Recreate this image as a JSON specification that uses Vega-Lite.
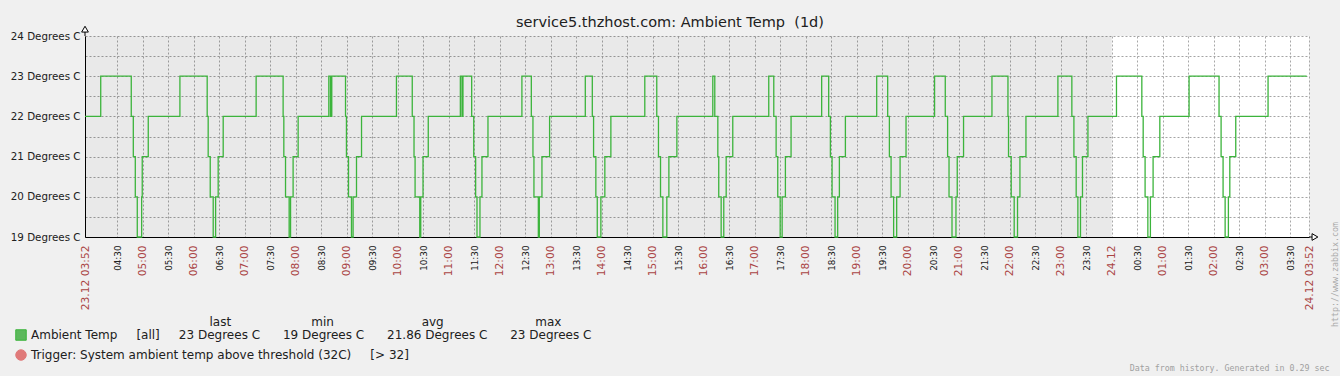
{
  "$schema": "https://vega.github.io/schema/vega-lite/v6.json",
  "autosize": {"type": "none"},
  "width": 1224,
  "height": 201,
  "padding": {"left": 85, "top": 36, "right": 31, "bottom": 139},
  "background": "#f0f0f0",
  "config": {"view": {"stroke": null, "fill": "#ffffff"}, "font": "DejaVu Sans"},
  "title": {
    "text": "service5.thzhost.com: Ambient Temp\u00a0 (1d)",
    "font": "DejaVu Sans", "fontSize": 14.5, "fontWeight": "normal", "color": "#202020",
    "anchor": "middle", "dx": -27, "dy": 21, "baseline": "alphabetic", "offset": 4
  },
  "layer": [
    {
      "data": {"values": [{}]},
      "mark": {"type": "rect", "fill": "#000000", "fillOpacity": 0.088},
      "encoding": {
        "x": {"datum": {"year": 2013, "month": 12, "date": 23, "hours": 3, "minutes": 52}, "type": "temporal"},
        "x2": {"datum": {"year": 2013, "month": 12, "date": 24, "hours": 0, "minutes": 0}}
      }
    },
    {
      "data": {"values": [
        {"t": "2013-12-23T03:52:00", "v": 22}, {"t": "2013-12-23T04:10:30", "v": 23},
        {"t": "2013-12-23T04:46:25", "v": 22}, {"t": "2013-12-23T04:48:50", "v": 21}, {"t": "2013-12-23T04:51:10", "v": 20}, {"t": "2013-12-23T04:53:30", "v": 19},
        {"t": "2013-12-23T04:58:40", "v": 20}, {"t": "2013-12-23T04:59:20", "v": 21}, {"t": "2013-12-23T05:06:25", "v": 22}, {"t": "2013-12-23T05:43:40", "v": 23},
        {"t": "2013-12-23T06:15:45", "v": 22}, {"t": "2013-12-23T06:16:55", "v": 21}, {"t": "2013-12-23T06:19:20", "v": 20}, {"t": "2013-12-23T06:22:50", "v": 19},
        {"t": "2013-12-23T06:25:40", "v": 20}, {"t": "2013-12-23T06:28:40", "v": 21}, {"t": "2013-12-23T06:34:35", "v": 22}, {"t": "2013-12-23T07:13:20", "v": 23},
        {"t": "2013-12-23T07:45:05", "v": 22}, {"t": "2013-12-23T07:45:55", "v": 21}, {"t": "2013-12-23T07:47:55", "v": 20}, {"t": "2013-12-23T07:52:10", "v": 19},
        {"t": "2013-12-23T07:53:50", "v": 20}, {"t": "2013-12-23T07:56:50", "v": 21}, {"t": "2013-12-23T08:02:45", "v": 22}, {"t": "2013-12-23T08:38:50", "v": 23},
        {"t": "2013-12-23T08:40:50", "v": 22}, {"t": "2013-12-23T08:42:20", "v": 23},
        {"t": "2013-12-23T08:58:30", "v": 22}, {"t": "2013-12-23T08:59:35", "v": 21}, {"t": "2013-12-23T09:02:00", "v": 20}, {"t": "2013-12-23T09:05:30", "v": 19},
        {"t": "2013-12-23T09:07:25", "v": 20}, {"t": "2013-12-23T09:11:25", "v": 21}, {"t": "2013-12-23T09:17:20", "v": 22}, {"t": "2013-12-23T09:58:25", "v": 23},
        {"t": "2013-12-23T10:17:00", "v": 22}, {"t": "2013-12-23T10:19:05", "v": 21}, {"t": "2013-12-23T10:20:20", "v": 20}, {"t": "2013-12-23T10:25:50", "v": 19},
        {"t": "2013-12-23T10:27:00", "v": 20}, {"t": "2013-12-23T10:29:40", "v": 21}, {"t": "2013-12-23T10:35:50", "v": 22}, {"t": "2013-12-23T11:13:35", "v": 23},
        {"t": "2013-12-23T11:15:30", "v": 22}, {"t": "2013-12-23T11:16:40", "v": 23},
        {"t": "2013-12-23T11:26:55", "v": 22}, {"t": "2013-12-23T11:29:20", "v": 21}, {"t": "2013-12-23T11:31:35", "v": 20}, {"t": "2013-12-23T11:33:10", "v": 19},
        {"t": "2013-12-23T11:36:40", "v": 20}, {"t": "2013-12-23T11:39:00", "v": 21}, {"t": "2013-12-23T11:46:05", "v": 22}, {"t": "2013-12-23T12:26:00", "v": 23},
        {"t": "2013-12-23T12:37:05", "v": 22}, {"t": "2013-12-23T12:39:00", "v": 21}, {"t": "2013-12-23T12:40:10", "v": 20}, {"t": "2013-12-23T12:45:20", "v": 19},
        {"t": "2013-12-23T12:46:30", "v": 20}, {"t": "2013-12-23T12:49:35", "v": 21}, {"t": "2013-12-23T12:58:35", "v": 22}, {"t": "2013-12-23T13:40:35", "v": 23},
        {"t": "2013-12-23T13:48:50", "v": 22}, {"t": "2013-12-23T13:50:20", "v": 21}, {"t": "2013-12-23T13:53:00", "v": 20}, {"t": "2013-12-23T13:54:40", "v": 19},
        {"t": "2013-12-23T13:58:55", "v": 20}, {"t": "2013-12-23T14:03:35", "v": 21}, {"t": "2013-12-23T14:10:40", "v": 22}, {"t": "2013-12-23T14:50:35", "v": 23},
        {"t": "2013-12-23T15:04:40", "v": 22}, {"t": "2013-12-23T15:06:40", "v": 21}, {"t": "2013-12-23T15:09:05", "v": 20}, {"t": "2013-12-23T15:11:50", "v": 19},
        {"t": "2013-12-23T15:16:30", "v": 20}, {"t": "2013-12-23T15:18:55", "v": 21}, {"t": "2013-12-23T15:28:20", "v": 22}, {"t": "2013-12-23T16:10:35", "v": 23},
        {"t": "2013-12-23T16:12:55", "v": 22}, {"t": "2013-12-23T16:16:30", "v": 21}, {"t": "2013-12-23T16:17:35", "v": 20}, {"t": "2013-12-23T16:20:25", "v": 19},
        {"t": "2013-12-23T16:23:30", "v": 20}, {"t": "2013-12-23T16:26:20", "v": 21}, {"t": "2013-12-23T16:34:05", "v": 22}, {"t": "2013-12-23T17:16:25", "v": 23},
        {"t": "2013-12-23T17:22:20", "v": 22}, {"t": "2013-12-23T17:25:05", "v": 21}, {"t": "2013-12-23T17:27:00", "v": 20}, {"t": "2013-12-23T17:29:50", "v": 19},
        {"t": "2013-12-23T17:32:10", "v": 20}, {"t": "2013-12-23T17:36:00", "v": 21}, {"t": "2013-12-23T17:42:40", "v": 22}, {"t": "2013-12-23T18:18:40", "v": 23},
        {"t": "2013-12-23T18:26:55", "v": 22}, {"t": "2013-12-23T18:28:55", "v": 21}, {"t": "2013-12-23T18:30:55", "v": 20}, {"t": "2013-12-23T18:34:25", "v": 19},
        {"t": "2013-12-23T18:37:30", "v": 20}, {"t": "2013-12-23T18:39:30", "v": 21}, {"t": "2013-12-23T18:46:35", "v": 22}, {"t": "2013-12-23T19:23:25", "v": 23},
        {"t": "2013-12-23T19:36:20", "v": 22}, {"t": "2013-12-23T19:38:20", "v": 21}, {"t": "2013-12-23T19:40:20", "v": 20}, {"t": "2013-12-23T19:43:20", "v": 19},
        {"t": "2013-12-23T19:46:55", "v": 20}, {"t": "2013-12-23T19:50:55", "v": 21}, {"t": "2013-12-23T19:57:55", "v": 22}, {"t": "2013-12-23T20:31:30", "v": 23},
        {"t": "2013-12-23T20:44:05", "v": 22}, {"t": "2013-12-23T20:46:50", "v": 21}, {"t": "2013-12-23T20:48:30", "v": 20}, {"t": "2013-12-23T20:52:00", "v": 19},
        {"t": "2013-12-23T20:56:40", "v": 20}, {"t": "2013-12-23T20:58:10", "v": 21}, {"t": "2013-12-23T21:05:35", "v": 22}, {"t": "2013-12-23T21:39:00", "v": 23},
        {"t": "2013-12-23T21:57:50", "v": 22}, {"t": "2013-12-23T21:58:30", "v": 21}, {"t": "2013-12-23T22:01:40", "v": 20}, {"t": "2013-12-23T22:05:10", "v": 19},
        {"t": "2013-12-23T22:09:05", "v": 20}, {"t": "2013-12-23T22:11:55", "v": 21}, {"t": "2013-12-23T22:19:00", "v": 22}, {"t": "2013-12-23T22:56:35", "v": 23},
        {"t": "2013-12-23T23:13:00", "v": 22}, {"t": "2013-12-23T23:15:25", "v": 21}, {"t": "2013-12-23T23:18:05", "v": 20}, {"t": "2013-12-23T23:20:05", "v": 19},
        {"t": "2013-12-23T23:23:10", "v": 20}, {"t": "2013-12-23T23:25:30", "v": 21}, {"t": "2013-12-23T23:31:55", "v": 22}, {"t": "2013-12-24T00:05:30", "v": 23},
        {"t": "2013-12-24T00:35:20", "v": 22}, {"t": "2013-12-24T00:36:55", "v": 21}, {"t": "2013-12-24T00:39:10", "v": 20}, {"t": "2013-12-24T00:42:25", "v": 19},
        {"t": "2013-12-24T00:45:25", "v": 20}, {"t": "2013-12-24T00:48:35", "v": 21}, {"t": "2013-12-24T00:56:30", "v": 22}, {"t": "2013-12-24T01:30:55", "v": 23},
        {"t": "2013-12-24T02:06:10", "v": 22}, {"t": "2013-12-24T02:08:35", "v": 21}, {"t": "2013-12-24T02:10:55", "v": 20}, {"t": "2013-12-24T02:13:20", "v": 19},
        {"t": "2013-12-24T02:17:10", "v": 20}, {"t": "2013-12-24T02:18:50", "v": 21}, {"t": "2013-12-24T02:25:50", "v": 22}, {"t": "2013-12-24T03:03:50", "v": 23},
        {"t": "2013-12-24T03:49:20", "v": 23}
      ]},
      "mark": {"type": "line", "interpolate": "step-after", "strokeWidth": 1.3},
      "encoding": {
        "x": {
          "field": "t", "type": "temporal",
          "scale": {"domain": [{"year": 2013, "month": 12, "date": 23, "hours": 3, "minutes": 52}, {"year": 2013, "month": 12, "date": 24, "hours": 3, "minutes": 52}]},
          "axis": {
            "tickCount": 200,
            "values": [
              {"year": 2013, "month": 12, "date": 23, "hours": 3, "minutes": 52},
              {"year": 2013, "month": 12, "date": 23, "hours": 4, "minutes": 30},
              {"year": 2013, "month": 12, "date": 23, "hours": 5, "minutes": 0}, {"year": 2013, "month": 12, "date": 23, "hours": 5, "minutes": 30},
              {"year": 2013, "month": 12, "date": 23, "hours": 6, "minutes": 0}, {"year": 2013, "month": 12, "date": 23, "hours": 6, "minutes": 30},
              {"year": 2013, "month": 12, "date": 23, "hours": 7, "minutes": 0}, {"year": 2013, "month": 12, "date": 23, "hours": 7, "minutes": 30},
              {"year": 2013, "month": 12, "date": 23, "hours": 8, "minutes": 0}, {"year": 2013, "month": 12, "date": 23, "hours": 8, "minutes": 30},
              {"year": 2013, "month": 12, "date": 23, "hours": 9, "minutes": 0}, {"year": 2013, "month": 12, "date": 23, "hours": 9, "minutes": 30},
              {"year": 2013, "month": 12, "date": 23, "hours": 10, "minutes": 0}, {"year": 2013, "month": 12, "date": 23, "hours": 10, "minutes": 30},
              {"year": 2013, "month": 12, "date": 23, "hours": 11, "minutes": 0}, {"year": 2013, "month": 12, "date": 23, "hours": 11, "minutes": 30},
              {"year": 2013, "month": 12, "date": 23, "hours": 12, "minutes": 0}, {"year": 2013, "month": 12, "date": 23, "hours": 12, "minutes": 30},
              {"year": 2013, "month": 12, "date": 23, "hours": 13, "minutes": 0}, {"year": 2013, "month": 12, "date": 23, "hours": 13, "minutes": 30},
              {"year": 2013, "month": 12, "date": 23, "hours": 14, "minutes": 0}, {"year": 2013, "month": 12, "date": 23, "hours": 14, "minutes": 30},
              {"year": 2013, "month": 12, "date": 23, "hours": 15, "minutes": 0}, {"year": 2013, "month": 12, "date": 23, "hours": 15, "minutes": 30},
              {"year": 2013, "month": 12, "date": 23, "hours": 16, "minutes": 0}, {"year": 2013, "month": 12, "date": 23, "hours": 16, "minutes": 30},
              {"year": 2013, "month": 12, "date": 23, "hours": 17, "minutes": 0}, {"year": 2013, "month": 12, "date": 23, "hours": 17, "minutes": 30},
              {"year": 2013, "month": 12, "date": 23, "hours": 18, "minutes": 0}, {"year": 2013, "month": 12, "date": 23, "hours": 18, "minutes": 30},
              {"year": 2013, "month": 12, "date": 23, "hours": 19, "minutes": 0}, {"year": 2013, "month": 12, "date": 23, "hours": 19, "minutes": 30},
              {"year": 2013, "month": 12, "date": 23, "hours": 20, "minutes": 0}, {"year": 2013, "month": 12, "date": 23, "hours": 20, "minutes": 30},
              {"year": 2013, "month": 12, "date": 23, "hours": 21, "minutes": 0}, {"year": 2013, "month": 12, "date": 23, "hours": 21, "minutes": 30},
              {"year": 2013, "month": 12, "date": 23, "hours": 22, "minutes": 0}, {"year": 2013, "month": 12, "date": 23, "hours": 22, "minutes": 30},
              {"year": 2013, "month": 12, "date": 23, "hours": 23, "minutes": 0}, {"year": 2013, "month": 12, "date": 23, "hours": 23, "minutes": 30},
              {"year": 2013, "month": 12, "date": 24, "hours": 0, "minutes": 0}, {"year": 2013, "month": 12, "date": 24, "hours": 0, "minutes": 30},
              {"year": 2013, "month": 12, "date": 24, "hours": 1, "minutes": 0}, {"year": 2013, "month": 12, "date": 24, "hours": 1, "minutes": 30},
              {"year": 2013, "month": 12, "date": 24, "hours": 2, "minutes": 0}, {"year": 2013, "month": 12, "date": 24, "hours": 2, "minutes": 30},
              {"year": 2013, "month": 12, "date": 24, "hours": 3, "minutes": 0}, {"year": 2013, "month": 12, "date": 24, "hours": 3, "minutes": 30},
              {"year": 2013, "month": 12, "date": 24, "hours": 3, "minutes": 52}
            ],
            "labelExpr": "hours(datum.value) == 3 && minutes(datum.value) == 52 ? (date(datum.value) == 23 ? '23.12 03:52' : '24.12 03:52') : (hours(datum.value) == 0 && minutes(datum.value) == 0 ? '24.12' : timeFormat(datum.value, '%H:%M'))",
            "labelAngle": 270,
            "labelFont": "DejaVu Sans",
            "labelColor": {"condition": {"test": "minutes(datum.value) == 30", "value": "#202020"}, "value": "#aa4444"},
            "labelFontSize": {"condition": {"test": "minutes(datum.value) == 30", "value": 8.8}, "value": 10.7},
            "labelPadding": 8,
            "labelOverlap": false, "labelFlush": false, "labelBound": false,
            "ticks": false, "tickSize": 0,
            "domainColor": "#000000", "domainWidth": 1,
            "grid": true,
            "gridColor": "#a8a8a8",
            "gridDash": [2, 2],
            "gridWidth": 1,
            "encode": {
              "grid": {
                "update": {
                  "stroke": {"signal": "minutes(datum.value) == 0 ? '#a4a4a4' : '#c8c8c8'"},
                  "strokeDash": {"value": [2, 2]},
                  "strokeOpacity": {"value": 1}
                }
              }
            },
            "title": "Data from history. Generated in 0.29 sec",
            "titleFont": "DejaVu Sans Mono", "titleFontSize": 8.3, "titleFontWeight": "normal", "titleColor": "#a0a0a0",
            "titleX": 1244, "titleY": 131, "titleAlign": "right", "titleBaseline": "middle", "titleAngle": 0
          }
        },
        "y": {
          "field": "v", "type": "quantitative",
          "scale": {"domain": [19, 24], "nice": false, "zero": false},
          "axis": {
            "tickCount": 200,
            "values": [19, 19.5, 20, 20.5, 21, 21.5, 22, 22.5, 23, 23.5, 24],
            "labelExpr": "datum.value % 1 == 0 ? datum.value + ' Degrees C' : ''",
            "labelFont": "DejaVu Sans", "labelFontSize": 10.3, "labelColor": "#202020", "labelPadding": 5,
            "labelOverlap": false, "labelFlush": false,
            "ticks": false, "tickSize": 0,
            "domainColor": "#000000", "domainWidth": 1,
            "gridColor": "#a4a4a4", "gridDash": [2, 2],
            "title": "http://www.zabbix.com",
            "titleFont": "DejaVu Sans Mono", "titleFontSize": 8.3, "titleFontWeight": "normal", "titleColor": "#aaaaaa",
            "titleX": 1250, "titleY": 238, "titleAngle": 270, "titleAlign": "center", "titleBaseline": "middle"
          }
        },
        "color": {
          "datum": "Ambient Temp",
          "scale": {"domain": ["Ambient Temp", "Trigger"], "range": ["#3cb43c", "#e07a7a"]},
          "legend": {
            "orient": "none", "legendX": -70, "legendY": 281, "direction": "vertical",
            "title": "\u200b\u00a0\u00a0\u00a0\u00a0\u00a0\u00a0\u00a0\u00a0\u00a0\u00a0\u00a0\u00a0\u00a0\u00a0\u00a0\u00a0\u00a0\u00a0\u00a0\u00a0\u00a0\u00a0\u00a0\u00a0\u00a0\u00a0\u00a0\u00a0\u00a0\u00a0\u00a0\u00a0\u00a0\u00a0\u00a0\u00a0\u00a0\u00a0\u00a0\u00a0\u00a0\u00a0\u00a0\u00a0\u00a0\u00a0\u00a0\u00a0\u00a0\u00a0\u00a0last\u00a0\u00a0\u00a0\u00a0\u00a0\u00a0\u00a0\u00a0\u00a0\u00a0\u00a0\u00a0\u00a0\u00a0\u00a0\u00a0\u00a0\u00a0\u00a0\u00a0\u00a0min\u00a0\u00a0\u00a0\u00a0\u00a0\u00a0\u00a0\u00a0\u00a0\u00a0\u00a0\u00a0\u00a0\u00a0\u00a0\u00a0\u00a0\u00a0\u00a0\u00a0\u00a0\u00a0\u00a0avg\u00a0\u00a0\u00a0\u00a0\u00a0\u00a0\u00a0\u00a0\u00a0\u00a0\u00a0\u00a0\u00a0\u00a0\u00a0\u00a0\u00a0\u00a0\u00a0\u00a0\u00a0\u00a0\u00a0\u00a0max",
            "titleFont": "DejaVu Sans", "titleFontSize": 12, "titleFontWeight": "normal", "titleColor": "#202020", "titleLimit": 2000, "titlePadding": 0,
            "labelExpr": "datum.label == 'Trigger' ? 'Trigger: System ambient temp above threshold (32C)\u00a0\u00a0\u00a0\u00a0\u00a0[> 32]' : 'Ambient Temp\u00a0\u00a0\u00a0\u00a0\u00a0[all]\u00a0\u00a0\u00a0\u00a0\u00a023 Degrees C\u00a0\u00a0\u00a0\u00a0\u00a0\u00a019 Degrees C\u00a0\u00a0\u00a0\u00a0\u00a0\u00a021.86 Degrees C\u00a0\u00a0\u00a0\u00a0\u00a0\u00a023 Degrees C'",
            "labelFont": "DejaVu Sans", "labelFontSize": 12, "labelColor": "#202020", "labelLimit": 2000, "labelOffset": 4,
            "symbolType": "square", "symbolSize": 110, "symbolStrokeWidth": 1, "symbolStrokeColor": "#202020",
            "rowPadding": 4, "padding": 0,
            "encode": {
              "symbols": {
                "update": {
                  "shape": {"signal": "datum.value == 'Trigger' ? 'circle' : 'square'"},
                  "fill": {"signal": "datum.value == 'Trigger' ? '#e07a7a' : '#5cb85c'"},
                  "stroke": {"value": "#202020"},
                  "strokeWidth": {"value": 1},
                  "opacity": {"value": 1}
                }
              }
            }
          }
        }
      }
    },
    {
      "data": {"values": [{}]},
      "mark": {"type": "rule", "color": "#000000", "strokeWidth": 1},
      "encoding": {
        "x": {"datum": {"year": 2013, "month": 12, "date": 24, "hours": 3, "minutes": 52}, "type": "temporal"},
        "x2": {"datum": {"year": 2013, "month": 12, "date": 24, "hours": 3, "minutes": 56}},
        "y": {"datum": 19, "type": "quantitative"}
      }
    },
    {
      "data": {"values": [{}]},
      "mark": {"type": "rule", "color": "#000000", "strokeWidth": 1},
      "encoding": {
        "x": {"datum": {"year": 2013, "month": 12, "date": 23, "hours": 3, "minutes": 52}, "type": "temporal"},
        "y": {"datum": 24, "type": "quantitative"},
        "y2": {"datum": 24.12}
      }
    },
    {
      "data": {"values": [{}]},
      "mark": {"type": "point", "shape": "triangle-right", "filled": true, "fill": "#ffffff", "stroke": "#000000", "strokeWidth": 1, "size": 45, "opacity": 1},
      "encoding": {
        "x": {"datum": {"year": 2013, "month": 12, "date": 24, "hours": 3, "minutes": 59}, "type": "temporal"},
        "y": {"datum": 19, "type": "quantitative"}
      }
    },
    {
      "data": {"values": [{}]},
      "mark": {"type": "point", "shape": "triangle-up", "filled": true, "fill": "#ffffff", "stroke": "#000000", "strokeWidth": 1, "size": 45, "opacity": 1},
      "encoding": {
        "x": {"datum": {"year": 2013, "month": 12, "date": 23, "hours": 3, "minutes": 52}, "type": "temporal"},
        "y": {"datum": 24.17, "type": "quantitative"}
      }
    }
  ]
}
